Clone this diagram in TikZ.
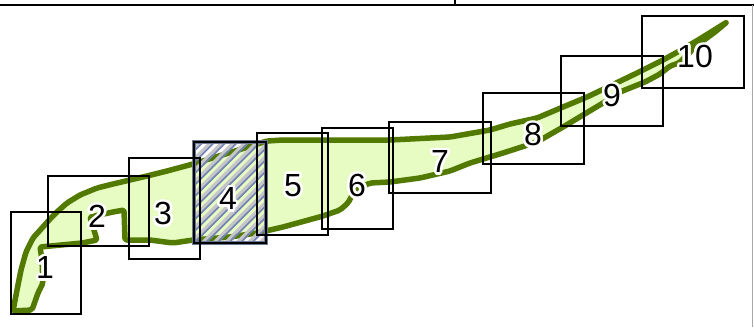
\documentclass[tikz,border=0pt]{standalone}
\usepackage{fontspec}
\setmainfont{Liberation Sans}
\usepackage{contour}
\contourlength{2.6pt}
\contournumber{16}
\definecolor{leaf}{HTML}{E6FCC2}
\definecolor{stem}{HTML}{527A00}
\definecolor{hatchblue}{HTML}{7383B3}
\definecolor{hatchgray}{HTML}{C6C6CA}
\definecolor{slate}{HTML}{6A7A90}
\begin{document}
\begin{tikzpicture}[x=1pt,y=-1pt,
  box/.style={draw=black,line width=2.4pt},
  lbl/.style={font=\fontsize{32}{34}\selectfont, inner sep=0pt}]
\useasboundingbox (0,0) rectangle (754,327);
\fill[white] (0,0) rectangle (754,327);
% frame lines
\draw[black,line width=2.5pt] (0,5) -- (754,5);
\draw[black,line width=1.5pt] (455,0) -- (455,5);
\draw[gray!70,line width=1pt] (752.5,5) -- (752.5,327);
% leaf shape
\draw[stem, fill=leaf, line width=5.5pt, line join=round, line cap=round, rounded corners=2pt]
 (13,311) -- (17,290) -- (21,270) -- (26,252) -- (33,238) -- (42,228) -- (50,219) -- (58,211)
 -- (67,203) -- (80,195) -- (97,188) -- (113,184) -- (130,180) -- (147,176) -- (167,171)
 -- (193,164) -- (248,147) -- (267,141) -- (283,140) -- (323,140) -- (390,140) -- (450,137)
 -- (490,130) -- (510,124) -- (537,118) -- (563,107) -- (587,97) -- (610,86) -- (637,73)
 -- (663,60) -- (683,49) -- (703,37) -- (727,22)
 -- (715,32) -- (700,43) -- (688,54) -- (679,63) -- (670,66) -- (660,74) -- (645,82)
 -- (630,88) -- (620,92) -- (603,103) -- (583,115) -- (563,127) -- (537,142) -- (503,153)
 -- (470,163) -- (450,171) -- (420,178) -- (390,182) -- (370,183) -- (355,190) -- (348,203)
 -- (340,210) -- (323,216) -- (283,227) -- (257,233) -- (230,237) -- (193,240) -- (173,243)
 -- (150,240) -- (125,240) -- (124,210) -- (113,212) -- (90,217) -- (97,240) -- (82,243)
 -- (40,247) -- (42,260) -- (43,283) -- (38,293) -- (32,310) -- cycle;
% hatched box 4
\begin{scope}
  \clip (194,142) rectangle (266,243);
  \foreach \c in {330,341.5,...,520} {
    \draw[hatchgray,line width=3pt] (\c-260,260) -- (\c-120,120);
    \draw[hatchblue,line width=1.8pt] (\c+3.6-260,260) -- (\c+3.6-120,120);
  }
\end{scope}
\draw[slate,line width=4.4pt] (194,142) rectangle (266,243);
% boxes
\draw[box] (11,212) rectangle (81,314);
\draw[box] (48,176) rectangle (149,246);
\draw[box] (129,158) rectangle (200,259);
\draw[box] (194,142) rectangle (266,243);
\draw[box] (257,133) rectangle (328,235);
\draw[box] (322,128) rectangle (393,229);
\draw[box] (389,122) rectangle (491,193);
\draw[box] (483,93) rectangle (584,164);
\draw[box] (561,56) rectangle (663,126);
\draw[box] (642,16) rectangle (744,88);
% labels
\node[lbl] (l1) at (45,269) {\contour{white}{1}};
\node[lbl] (l2) at (97,218) {\contour{white}{2}};
\node[lbl] (l3) at (163,215) {\contour{white}{3}};
\node[lbl] (l4) at (228,200) {\contour{white}{4}};
\node[lbl] (l5) at (293,187) {\contour{white}{5}};
\node[lbl] (l6) at (357,187) {\contour{white}{6}};
\node[lbl] (l7) at (440,163) {\contour{white}{7}};
\node[lbl] (l8) at (533,136) {\contour{white}{8}};
\node[lbl] (l9) at (612,97) {\contour{white}{9}};
\node[lbl] (l10) at (695,58) {\contour{white}{10}};
\end{tikzpicture}
\end{document}
